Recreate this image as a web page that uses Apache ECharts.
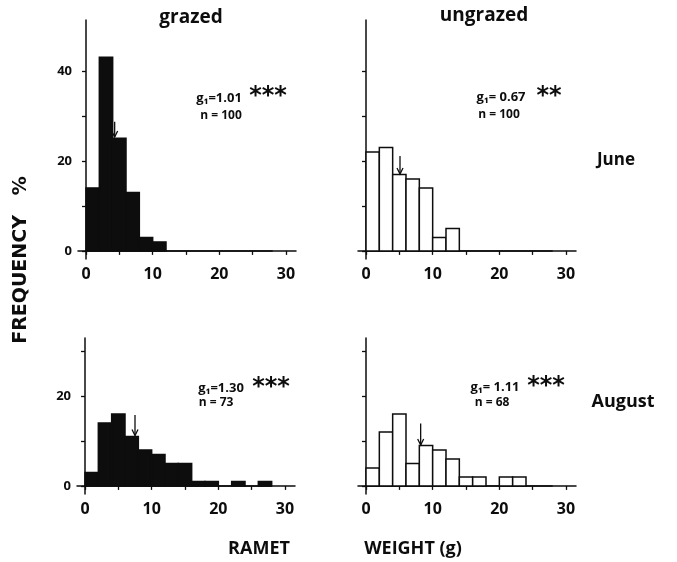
<!DOCTYPE html>
<html>
<head>
<meta charset="utf-8">
<script src="https://cdn.jsdelivr.net/npm/echarts@6/dist/echarts.min.js"></script>
<style>
  html, body { margin: 0; padding: 0; background: #fff; }
  #chart { width: 677px; height: 562px; }
</style>
</head>
<body>
<div id="chart"></div>
<script>
// bins are 2 g wide, starting at 0
var binStart = [0, 2, 4, 6, 8, 10, 12, 14, 16, 18, 20, 22, 24, 26];
var grazedJune   = [14, 43, 25, 13, 3, 2, 0, 0, 0, 0, 0, 0, 0, 0];
var ungrazedJune = [22, 23, 17, 16, 14, 3, 5, 0, 0, 0, 0, 0, 0, 0];
var grazedAug    = [3, 14, 16, 11, 8, 7, 5, 5, 1, 1, 0, 1, 0, 1];
var ungrazedAug  = [4, 12, 16, 5, 9, 8, 6, 2, 2, 0, 2, 2, 0, 0];

// mean arrows: [x, arrow tail, arrow head]
var meanGrazedJune   = [4.3, 28.7, 25.3];
var meanUngrazedJune = [5.1, 21.1, 17.1];
var meanGrazedAug    = [7.5, 15.8, 11.2];
var meanUngrazedAug  = [8.2, 13.9, 9.1];

var xTicks = [0, 5, 10, 15, 20, 25, 30];
var xLabels = [0, 10, 20, 30];
var yTicksTop = [0, 10, 20, 30, 40];
var yTicksBottom = [0, 10, 20, 30];
var yLabelsTop = [0, 20, 40];
var yLabelsBottom = [0, 20];
var baselineEnd = 28;

var FONT = '"Open Sans", Lato, sans-serif';
var STAR = '"DejaVu Sans", sans-serif';

var chart = echarts.init(document.getElementById('chart'));

function histData(vals) {
    return vals.map(function (v, i) { return [binStart[i], binStart[i] + 2, v]; });
}

function histSeries(idx, vals, filled) {
    return {
        type: 'custom',
        xAxisIndex: idx,
        yAxisIndex: idx,
        data: histData(vals),
        renderItem: function (params, api) {
            var h = api.value(2);
            if (!h) return null;
            var p0 = api.coord([api.value(0), h]);
            var p1 = api.coord([api.value(1), 0]);
            return {
                type: 'rect',
                shape: { x: p0[0], y: p0[1], width: p1[0] - p0[0], height: p1[1] - p0[1] },
                style: {
                    fill: filled ? '#0d0d0d' : '#fff',
                    stroke: '#0d0d0d',
                    lineWidth: 1.5
                }
            };
        },
        silent: true,
        z: 3
    };
}

function baseSeries(idx) {
    return {
        type: 'line',
        xAxisIndex: idx,
        yAxisIndex: idx,
        data: [[0, 0], [baselineEnd, 0]],
        symbol: 'none',
        lineStyle: { color: '#0d0d0d', width: 1.5 },
        silent: true,
        z: 2
    };
}

function arrowSeries(idx, mean) {
    return {
        type: 'custom',
        xAxisIndex: idx,
        yAxisIndex: idx,
        data: [mean],
        renderItem: function (params, api) {
            var a = api.coord([api.value(0), api.value(1)]);
            var b = api.coord([api.value(0), api.value(2)]);
            return {
                type: 'group',
                children: [{
                    type: 'line',
                    shape: { x1: a[0], y1: a[1], x2: b[0], y2: b[1] },
                    style: { stroke: '#0d0d0d', lineWidth: 1.3 }
                }, {
                    type: 'polyline',
                    shape: { points: [[b[0] - 3, b[1] - 6], [b[0], b[1]], [b[0] + 3, b[1] - 6]] },
                    style: { stroke: '#0d0d0d', lineWidth: 1.3, fill: null }
                }]
            };
        },
        silent: true,
        z: 5
    };
}

function xAxisFor(idx) {
    return {
        type: 'value',
        gridIndex: idx,
        min: -1.2,
        max: 31.5,
        splitLine: { show: false },
        axisLine: { show: true, lineStyle: { color: '#0d0d0d', width: 1.5 } },
        axisTick: { show: true, length: 4, customValues: xTicks, lineStyle: { color: '#0d0d0d', width: 1.3 } },
        axisLabel: {
            customValues: xLabels,
            color: '#0d0d0d',
            fontFamily: FONT,
            fontWeight: 'bold',
            fontSize: 16,
            margin: 7
        }
    };
}

function yAxisFor(idx, max, ticks, labels) {
    return {
        type: 'value',
        gridIndex: idx,
        min: -1.8,
        max: max,
        splitLine: { show: false },
        axisLine: { show: true, lineStyle: { color: '#0d0d0d', width: 1.5 } },
        axisTick: { show: true, length: 4, customValues: ticks, lineStyle: { color: '#0d0d0d', width: 1.3 } },
        axisLabel: {
            show: labels.length > 0,
            customValues: labels,
            color: '#0d0d0d',
            fontFamily: FONT,
            fontWeight: 'bold',
            fontSize: 13,
            margin: 6
        }
    };
}

// text centred on (x, y)
function txt(x, y, text, size, family) {
    return {
        type: 'text',
        style: {
            x: x,
            y: y,
            text: text,
            fill: '#0d0d0d',
            font: 'bold ' + size + 'px ' + (family || FONT),
            textAlign: 'center',
            textVerticalAlign: 'middle'
        }
    };
}

var option = {
    animation: false,
    backgroundColor: '#fff',
    grid: [
        { left: 78, top: 20, width: 218, height: 239 },
        { left: 358, top: 20, width: 218, height: 239 },
        { left: 77, top: 338, width: 218, height: 156 },
        { left: 358, top: 338, width: 218, height: 156 }
    ],
    xAxis: [xAxisFor(0), xAxisFor(1), xAxisFor(2), xAxisFor(3)],
    yAxis: [
        yAxisFor(0, 51.3, yTicksTop, yLabelsTop),
        yAxisFor(1, 51.3, yTicksTop, []),
        yAxisFor(2, 32.9, yTicksBottom, yLabelsBottom),
        yAxisFor(3, 32.9, yTicksBottom, [])
    ],
    series: [
        baseSeries(0), histSeries(0, grazedJune, true), arrowSeries(0, meanGrazedJune),
        baseSeries(1), histSeries(1, ungrazedJune, false), arrowSeries(1, meanUngrazedJune),
        baseSeries(2), histSeries(2, grazedAug, true), arrowSeries(2, meanGrazedAug),
        baseSeries(3), histSeries(3, ungrazedAug, false), arrowSeries(3, meanUngrazedAug)
    ],
    graphic: [
        txt(191, 18, 'grazed', 19),
        txt(484, 16, 'ungrazed', 19),
        txt(616, 160, 'June', 17),
        txt(623, 402, 'August', 18),
        txt(259, 549, 'RAMET', 18),
        txt(413, 549, 'WEIGHT (g)', 18),
        {
            type: 'text',
            x: 21,
            y: 260,
            rotation: Math.PI / 2,
            style: {
                x: 0,
                y: 0,
                text: 'FREQUENCY   %',
                fill: '#0d0d0d',
                font: 'bold 19px ' + STAR,
                textAlign: 'center',
                textVerticalAlign: 'middle'
            }
        },
        txt(219, 98, 'g\u2081=1.01', 13),
        txt(268, 97, '***', 24, STAR),
        txt(221, 116, 'n = 100', 12),
        txt(501, 97, 'g\u2081= 0.67', 13),
        txt(549, 97, '**', 24, STAR),
        txt(499, 115, 'n = 100', 12),
        txt(221, 388, 'g\u2081=1.30', 13),
        txt(271, 388, '***', 24, STAR),
        txt(216, 403, 'n = 73', 12),
        txt(495, 387, 'g\u2081= 1.11', 13),
        txt(546, 387, '***', 24, STAR),
        txt(492, 403, 'n = 68', 12)
    ]
};

chart.setOption(option);
</script>
</body>
</html>
